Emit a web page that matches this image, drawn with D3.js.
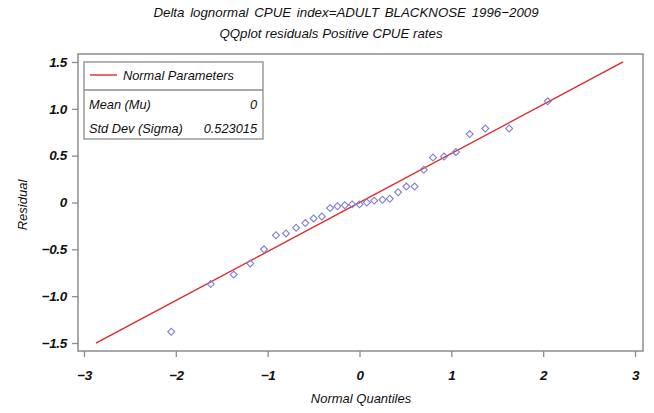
<!DOCTYPE html>
<html><head><meta charset="utf-8">
<script src="https://cdn.jsdelivr.net/npm/d3@7"></script>
<style>
body{margin:0;background:#fff;}
svg text{font-family:"Liberation Sans",Arial,sans-serif;font-style:italic;fill:#111;}
</style></head><body>
<svg id="c" width="654" height="413"></svg>
<script>
const titleLines = ["Delta lognormal CPUE index=ADULT BLACKNOSE 1996\u22122009", "QQplot residuals Positive CPUE rates"];
const xLabel = "Normal Quantiles";
const yLabel = "Residual";
const quantiles = [-2.05,-1.62,-1.37,-1.19,-1.04,-0.91,-0.80,-0.69,-0.59,-0.50,-0.41,-0.32,-0.24,-0.16,-0.08,0.00,0.08,0.16,0.25,0.33,0.42,0.51,0.60,0.70,0.80,0.92,1.05,1.20,1.37,1.63,2.05];
const residuals = [-1.38,-0.87,-0.77,-0.65,-0.50,-0.35,-0.33,-0.27,-0.22,-0.17,-0.15,-0.06,-0.04,-0.03,-0.02,-0.02,0.00,0.02,0.03,0.04,0.11,0.17,0.17,0.35,0.48,0.49,0.54,0.73,0.79,0.79,1.08];
const xTicks = [-3,-2,-1,0,1,2,3];
const yTicks = [-1.5,-1.0,-0.5,0,0.5,1.0,1.5];
const mu = 0, sigma = 0.523015;
const lineRange = [-2.87, 2.87];
const legendTitle = "Normal Parameters";
const legendRows = [["Mean (Mu)", "0"], ["Std Dev (Sigma)", "0.523015"]];

const svg = d3.select("#c");
const frame = {l:78, r:643, t:54, b:351};
const x = d3.scaleLinear().domain([-3,3]).range([84,635]);
const y = d3.scaleLinear().domain([-1.5,1.5]).range([343,62]);
const fmtNum = v => (v===0 ? "0" : (v<0?"\u2212":"") + String(Math.abs(v)));
const fmtY = v => (v===0 ? "0" : (v<0?"\u2212":"") + Math.abs(v).toFixed(1));

svg.append("rect").attr("x",frame.l).attr("y",frame.t).attr("width",frame.r-frame.l).attr("height",frame.b-frame.t)
  .attr("fill","none").attr("stroke","#8c8c8c").attr("stroke-width",1.5);

const xAxis = svg.append("g").attr("transform",`translate(0,${frame.b})`)
  .call(d3.axisBottom(x).tickValues(xTicks).tickSize(6).tickPadding(13).tickFormat(d=>fmtNum(d)));
const yAxis = svg.append("g").attr("transform",`translate(${frame.l},0)`)
  .call(d3.axisLeft(y).tickValues(yTicks).tickSize(6).tickPadding(5).tickFormat(d=>fmtY(d)));
[xAxis,yAxis].forEach(a=>{
  a.select(".domain").remove();
  a.selectAll(".tick line").attr("stroke","#8c8c8c").attr("stroke-width",1.3);
  a.selectAll(".tick text").attr("font-size",13.5).attr("fill","#111")
    .style("font-family",'"Liberation Sans",Arial,sans-serif').style("font-style","italic").style("font-weight","bold")
    .style("letter-spacing","-0.3px");
});

svg.append("line").attr("x1",x(lineRange[0])).attr("y1",y(mu+sigma*lineRange[0]))
  .attr("x2",x(lineRange[1])).attr("y2",y(mu+sigma*lineRange[1]))
  .attr("stroke","#e0282a").attr("stroke-width",1.4);

svg.append("g").selectAll("path").data(quantiles.map((q,i)=>[q,residuals[i]])).join("path")
  .attr("d", d3.symbol().type(d3.symbolSquare).size(24)())
  .attr("transform",d=>`translate(${x(d[0])},${y(d[1])}) rotate(45)`)
  .attr("fill","none").attr("stroke","#7b7fd0").attr("stroke-width",1.1);

const lg = svg.append("g");
lg.append("rect").attr("x",84).attr("y",62).attr("width",179).attr("height",77)
  .attr("fill","#fff").attr("stroke","#8c8c8c").attr("stroke-width",1.3);
lg.append("line").attr("x1",84).attr("x2",263).attr("y1",90).attr("y2",90).attr("stroke","#8c8c8c").attr("stroke-width",1.3);
lg.append("line").attr("x1",90).attr("x2",117).attr("y1",75).attr("y2",75).attr("stroke","#e0282a").attr("stroke-width",1.4);
lg.append("text").attr("x",123).attr("y",80).attr("font-size",12.8).text(legendTitle);
legendRows.forEach((r,i)=>{
  lg.append("text").attr("x",89).attr("y",109+i*24).attr("font-size",12.8).text(r[0]);
  lg.append("text").attr("x",257).attr("y",109+i*24).attr("font-size",12.8).attr("text-anchor","end").text(r[1]);
});

const titleX = [346, 331];
titleLines.forEach((t,i)=>{
  svg.append("text").attr("x",titleX[i]).attr("y",17+i*21).attr("text-anchor","middle").attr("font-size",13.3)
    .style("word-spacing", i===0 ? "2px" : "0px").text(t);
});
svg.append("text").attr("x",361).attr("y",403).attr("text-anchor","middle").attr("font-size",13).text(xLabel);
svg.append("text").attr("transform","translate(27,205) rotate(-90)").attr("text-anchor","middle").attr("font-size",13).text(yLabel);
</script></body></html>
